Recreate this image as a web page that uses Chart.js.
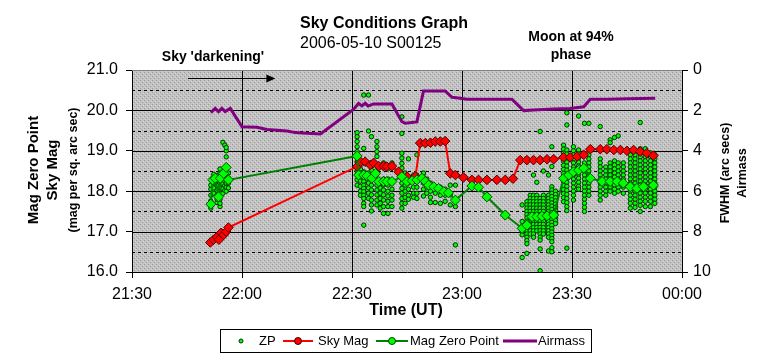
<!DOCTYPE html>
<html><head><meta charset="utf-8">
<script src="https://cdn.jsdelivr.net/npm/chart.js@4.4.0/dist/chart.umd.min.js"></script>
<style>html,body{margin:0;padding:0;background:#fff;}canvas{display:block;}</style>
</head><body>
<canvas id="c" width="764" height="358"></canvas>
<script>
// Time values are minutes after 21:30 UT
const xTickLabels = ['21:30','22:00','22:30','23:00','23:30','00:00'];
const leftTickValues = [16, 17, 18, 19, 20, 21];
const rightTickValues = [0,1,2,3,4,5,6,7,8,9,10];

const airmassTime = [21.5,22.7,23.6,24.5,25.4,26.8,30.0,34.1,36.8,42.3,44.5,47.7,51.4,60.4,61.8,62.7,63.6,64.4,65.9,70.9,73.6,74.5,77.7,79.5,85.4,87.3,89.5,91.4,103.6,106.8,109.5,115.0,119.5,123.2,125.0,129.5,135.0,142.7];
const airmassValue = [2.11,1.90,2.06,1.90,2.06,1.90,2.81,2.84,2.94,3.02,3.10,3.13,3.17,1.95,1.65,1.78,1.65,1.78,1.68,1.68,2.56,2.64,2.57,1.04,1.04,1.35,1.40,1.45,1.45,2.01,1.98,1.93,1.90,1.82,1.45,1.45,1.42,1.40];

const skyMagTime = [21.35,22.25,23.2,23.7,24.3,25.0,25.7,26.3,61.4,62.3,63.6,65.0,65.9,67.3,68.6,69.5,70.9,72.7,75.0,77.3,78.6,80.0,81.4,82.7,84.1,85.4,86.8,88.2,90.4,92.7,94.5,96.8,99.5,101.8,103.9,105.9,107.7,109.5,111.3,113.2,115.0,117.7,119.5,121.4,123.2,125.0,127.7,129.5,131.4,133.2,135.0,136.8,138.6,140.4,142.2];
const skyMagValue = [16.73,16.80,16.87,16.80,16.97,16.92,17.00,17.10,18.61,18.73,18.73,18.65,18.70,18.62,18.62,18.61,18.62,18.48,18.36,18.36,19.19,19.19,19.20,19.23,19.23,19.24,18.44,18.40,18.34,18.28,18.28,18.28,18.28,18.28,18.31,18.77,18.77,18.77,18.77,18.79,18.79,18.84,18.84,18.86,18.90,19.04,19.04,19.04,19.02,19.02,19.00,19.02,18.98,18.94,18.88];

const zeroPointTime = [21.5,22.0,22.7,23.6,24.1,25.0,25.7,26.3,61.4,61.8,63.2,64.1,65.4,66.4,67.3,68.6,69.5,70.9,73.6,75.0,76.4,77.7,79.1,80.0,80.9,82.3,83.6,85.0,86.3,88.2,92.7,94.5,96.8,101.8,106.4,107.7,109.1,110.4,111.8,113.2,115.0,117.7,119.1,120.4,121.8,123.2,125.0,128.2,130.4,132.3,134.0,135.9,137.7,139.5,142.2];
const zeroPointValue = [17.68,18.28,18.32,17.86,18.32,18.44,18.59,18.28,18.87,18.40,18.40,18.38,18.32,18.44,18.24,18.24,18.24,18.24,18.36,18.24,18.26,18.28,18.32,18.24,18.15,18.11,18.07,17.99,17.96,17.78,18.13,18.10,17.86,17.41,17.08,17.16,17.37,17.37,17.38,17.39,17.41,18.32,18.40,18.48,18.52,18.57,18.32,18.24,18.24,18.24,18.20,18.11,18.07,18.11,18.15];

// ZP readings, grouped by time column
const zpColumnTime = [21.5,22.3,23.2,24.0,24.8,25.3,25.7,26.3,
 61.4,62.3,63.2,64.5,65.3,66.8,67.7,68.6,69.8,70.9,73.6,74.5,75.4,76.8,77.7,79.5,80.4,81.4,82.7,84.1,85.4,86.8,88.2,
 106.4,107.7,108.6,109.5,110.4,111.3,112.2,113.6,114.5,115.5,
 117.7,118.6,120.4,121.8,123.4,124.6,127.7,129.2,130.4,131.6,132.6,134.0,135.9,137.2,138.6,140.0,141.4,142.6];
const zpColumnMags = [
 [17.58,17.68,17.76,17.9,18.05,18.15],
 [17.95,18.08,18.2,18.3,18.42],
 [17.72,17.8,17.9,18.02,18.14,18.26,18.38],
 [17.62,17.7,17.8,17.95,18.08,18.2,18.32,18.45,18.55],
 [17.95,18.06,18.18,18.3,18.42,19.21],
 [18.02,18.14,18.26,18.38,19.14],
 [18.0,18.1,18.2,18.3,18.5,18.62,18.85,19.0,19.08],
 [18.08,18.2,18.32,18.45],
 [19.45,19.35,19.23,19.1,18.98,18.86,18.73,18.6,18.5,18.4,18.28,18.15],
 [18.55,18.45,18.35,18.25,18.12,18.0,17.9],
 [20.38,19.06,18.69,18.48,18.36,18.24,18.15,18.07,17.99,17.9,17.82,17.7,17.62,17.16],
 [20.38,19.49,18.45,18.32,18.2,18.08,17.95,17.82],
 [19.35,18.52,18.4,18.28,18.15,18.03,17.91,17.78,17.66,17.51],
 [19.23,19.1,18.98,18.86,18.3,18.15,18.03,17.91,17.78,17.66],
 [18.2,18.08,17.95,17.82,17.7,17.58],
 [18.7,18.3,18.15,18.03,17.91,17.78,17.62,17.45],
 [18.55,18.3,18.15,18.0,17.88,17.75,17.62,17.45],
 [18.7,18.2,18.05,17.9,17.78,17.62],
 [19.84,19.43,18.94,18.82,18.69,18.57,18.44,18.32,18.2,18.07,17.95,17.82,17.7,17.58],
 [18.45,18.3,18.15,18.0,17.85,17.7],
 [18.8,18.35,18.2,18.05,17.9,17.8],
 [18.4,18.25,18.1,17.95,17.85],
 [18.9,18.4,18.25,18.1,17.95,17.82],
 [18.45,18.35,18.2,18.05,17.88],
 [18.3,18.1,17.95],
 [18.2,18.0,17.85,17.72],
 [18.1,17.95,17.72],
 [18.1,17.9,17.7],
 [18.05,17.9,17.75],
 [18.15,17.91,17.66],
 [18.15,17.62,16.67],
 [17.66,17.25,17.12,17.0,16.92,16.36],
 [17.74,17.66,17.58,17.5,17.42,17.34,17.26,17.18,17.1,17.02,16.94,16.86,16.78,16.7,16.46],
 [17.9,17.82,17.74,17.66,17.58,17.5,17.42,17.34,17.26,17.18,17.1,17.02,16.94],
 [18.4,17.9,17.82,17.74,17.66,17.58,17.5,17.42,17.34,17.26,17.18,17.1,17.02,16.94,16.86],
 [18.22,17.9,17.82,17.74,17.66,17.58,17.5,17.42,17.34,17.26,17.18,17.1,17.02],
 [19.48,17.82,17.74,17.66,17.58,17.5,17.42,17.34,17.26,17.18,17.1,17.02,16.94,16.86,16.79,16.57,16.03],
 [18.5,17.9,17.82,17.74,17.66,17.58,17.5,17.42,17.34,17.26,17.18,17.1,17.02,16.94],
 [18.4,17.9,17.82,17.74,17.66,17.58,17.5,17.42,17.34,17.26,17.18,17.1,17.02,16.94,16.86,16.52],
 [19.1,18.61,18.11,18.03,17.95,17.87,17.79,17.71,17.63,17.55,17.47,17.39,17.31,17.23,17.15,17.07,16.99,16.91,16.83,16.75,16.6,16.5],
 [18.0,17.92,17.84,17.76,17.68,17.6,17.52,17.45,17.36,17.28,17.2],
 [19.14,19.04,18.94,18.84,18.74,18.64,18.54,18.44,18.34,18.24,18.14,18.04,17.94,17.84,17.74],
 [19.94,19.64,19.02,18.92,18.82,18.72,18.62,18.52,18.42,18.32,18.22,18.12,18.02,17.92,17.82,17.72,17.62,17.52,16.59],
 [19.1,19.0,18.9,18.8,18.7,18.6,18.5,18.4,18.3,18.2,18.1,18.0,17.9,17.78],
 [19.86,19.02,18.92,18.82,18.72,18.62,18.52,18.42,18.32,18.22,18.12,18.05],
 [19.68,18.7,18.6,18.5,18.4,18.3,18.2,18.1,18.0,17.9,17.8,17.7,17.6,17.5],
 [19.68,18.9,18.8,18.7,18.6,18.5,18.4,18.3,18.2,18.1,18.0,17.9],
 [19.6,18.8,18.7,18.6,18.5,18.4,18.3,18.2,18.1,18.0,17.9,17.78],
 [18.6,18.5,18.4,18.3,18.2,18.1,18.0,17.9],
 [19.27,19.2,18.7,18.6,18.5,18.4,18.3,18.2,18.1,18.0],
 [19.33,18.75,18.65,18.55,18.45,18.35,18.25,18.15,18.05,17.95],
 [19.37,18.7,18.6,18.5,18.4,18.3,18.2,18.1,18.0],
 [18.7,18.6,18.5,18.4,18.3,18.2,18.1,17.95],
 [19.0,18.9,18.8,18.7,18.6,18.5,18.4,18.3,18.2,18.1,18.0,17.9,17.8,17.7,17.58],
 [19.0,18.9,18.8,18.7,18.6,18.5,18.4,18.3,18.2,18.1,18.0,17.9,17.8,17.7,17.6],
 [19.7,19.05,18.95,18.85,18.75,18.65,18.55,18.45,18.35,18.25,18.15,18.05,17.95,17.85,17.75,17.65,17.5],
 [19.05,18.95,18.85,18.75,18.65,18.55,18.45,18.35,18.25,18.15,18.05,17.95,17.85,17.75,17.62],
 [18.95,18.85,18.75,18.65,18.55,18.45,18.35,18.25,18.15,18.05,17.95,17.85,17.75,17.62],
 [18.9,18.8,18.7,18.6,18.5,18.4,18.3,18.2,18.1,18.0,17.9,17.8,17.7]
];

const FONT = "'Liberation Sans', Arial, sans-serif";
Chart.defaults.font.family = FONT;
Chart.defaults.color = '#000';

const zip = (xs, ys) => xs.map((x, i) => ({x: x, y: ys[i]}));
const zpPoints = [];
zpColumnTime.forEach((t, i) => zpColumnMags[i].forEach(m => zpPoints.push({x: t, y: m})));

function makePattern(ctx) {
  const c = document.createElement('canvas'); c.width = 4; c.height = 4;
  const g = c.getContext('2d');
  g.fillStyle = '#c2c2c2'; g.fillRect(0, 0, 4, 4);
  g.fillStyle = '#9c9c9c'; g.fillRect(0, 0, 1, 1); g.fillRect(2, 2, 1, 1);
  g.fillStyle = '#d8d8d8'; g.fillRect(1, 3, 1, 1); g.fillRect(3, 1, 1, 1);
  return ctx.createPattern(c, 'repeat');
}

const decor = {
  id: 'decor',
  beforeDraw(chart) {
    const {ctx, chartArea: a} = chart;
    ctx.save();
    ctx.fillStyle = '#fff'; ctx.fillRect(0, 0, chart.width, chart.height);
    ctx.fillStyle = makePattern(ctx);
    ctx.fillRect(a.left, a.top, a.right - a.left, a.bottom - a.top);
    ctx.restore();
  },
  beforeDatasetsDraw(chart) {
    const {ctx, chartArea: a} = chart;
    const y2 = chart.scales.y2;
    ctx.save();
    ctx.lineWidth = 1;
    rightTickValues.forEach(v => {
      if (v === 0 || v === 10) return;
      const py = Math.round(y2.getPixelForValue(v)) + 0.5;
      ctx.strokeStyle = '#000';
      ctx.setLineDash(v % 2 ? [3, 3] : []);
      ctx.beginPath(); ctx.moveTo(a.left, py); ctx.lineTo(a.right, py); ctx.stroke();
    });
    ctx.setLineDash([]);
    ctx.strokeStyle = '#808080';
    const ty = Math.round(a.top) + 0.5;
    ctx.beginPath(); ctx.moveTo(a.left, ty); ctx.lineTo(a.right, ty); ctx.stroke();
    ctx.restore();
  },
  afterDraw(chart) {
    const {ctx} = chart;
    const xs = chart.scales.x, ys = chart.scales.y;
    ctx.save();
    ctx.fillStyle = '#000';
    ctx.textBaseline = 'middle';
    // titles
    ctx.textAlign = 'left';
    ctx.font = 'bold 16px ' + FONT;
    ctx.fillText('Sky Conditions Graph', 300, 24);
    ctx.font = '16px ' + FONT;
    ctx.fillText('2006-05-10 S00125', 300, 44);
    ctx.textAlign = 'center';
    ctx.font = 'bold 14px ' + FONT;
    ctx.fillText("Sky 'darkening'", 213, 57);
    ctx.fillText('Moon at 94%', 571, 37);
    ctx.fillText('phase', 571, 55);
    ctx.font = 'bold 16px ' + FONT;
    ctx.fillText('Time (UT)', 406, 311);
    // arrow
    const ay = Math.round(ys.getPixelForValue(20.8)) + 0.5;
    const ax1 = xs.getPixelForValue(15.3), ax2 = xs.getPixelForValue(39.1);
    ctx.strokeStyle = '#000'; ctx.lineWidth = 1;
    ctx.beginPath(); ctx.moveTo(ax1, ay); ctx.lineTo(ax2 - 8, ay); ctx.stroke();
    ctx.beginPath(); ctx.moveTo(ax2, ay); ctx.lineTo(ax2 - 9, ay - 4); ctx.lineTo(ax2 - 9, ay + 4); ctx.closePath(); ctx.fill();
    // left axis titles
    const rot = (txt, x, y, font) => {
      ctx.save(); ctx.translate(x, y); ctx.rotate(-Math.PI / 2);
      ctx.font = font; ctx.textAlign = 'center'; ctx.textBaseline = 'middle';
      ctx.fillText(txt, 0, 0); ctx.restore();
    };
    rot('Mag Zero Point', 34, 170, 'bold 15px ' + FONT);
    rot('Sky Mag', 53, 170, 'bold 15px ' + FONT);
    rot('(mag per sq. arc sec)', 74, 170, 'bold 12.5px ' + FONT);
    rot('FWHM (arc secs)', 726, 173, 'bold 12.5px ' + FONT);
    rot('Airmass', 743, 173, 'bold 12.5px ' + FONT);
    // legend
    ctx.fillStyle = '#fff'; ctx.fillRect(220.5, 329.5, 371, 23);
    ctx.strokeStyle = '#000'; ctx.lineWidth = 1; ctx.strokeRect(220.5, 329.5, 371, 23);
    const ly = 341;
    ctx.font = '13px ' + FONT; ctx.textAlign = 'left'; ctx.textBaseline = 'middle';
    ctx.beginPath(); ctx.arc(241, ly, 2, 0, Math.PI * 2); ctx.fillStyle = '#00ff00'; ctx.fill(); ctx.strokeStyle = '#003000'; ctx.stroke();
    ctx.fillStyle = '#000'; ctx.fillText('ZP', 259, ly);
    ctx.lineWidth = 2; ctx.strokeStyle = '#ff0000';
    ctx.beginPath(); ctx.moveTo(283, ly); ctx.lineTo(313, ly); ctx.stroke();
    ctx.lineWidth = 1; ctx.beginPath(); ctx.arc(298, ly, 3.5, 0, Math.PI * 2); ctx.fillStyle = '#ff0000'; ctx.fill(); ctx.strokeStyle = '#400000'; ctx.stroke();
    ctx.fillStyle = '#000'; ctx.fillText('Sky Mag', 318, ly);
    ctx.lineWidth = 2; ctx.strokeStyle = '#008000';
    ctx.beginPath(); ctx.moveTo(376, ly); ctx.lineTo(408, ly); ctx.stroke();
    ctx.lineWidth = 1; ctx.beginPath(); ctx.arc(392, ly, 3.5, 0, Math.PI * 2); ctx.fillStyle = '#00ff00'; ctx.fill(); ctx.strokeStyle = '#004000'; ctx.stroke();
    ctx.fillStyle = '#000'; ctx.fillText('Mag Zero Point', 410, ly);
    ctx.lineWidth = 3; ctx.strokeStyle = '#800080';
    ctx.beginPath(); ctx.moveTo(503, ly); ctx.lineTo(537, ly); ctx.stroke();
    ctx.fillStyle = '#000'; ctx.fillText('Airmass', 538, ly);
    ctx.restore();
  }
};

new Chart(document.getElementById('c').getContext('2d'), {
  type: 'line',
  data: {
    datasets: [
      {label: 'ZP', type: 'scatter', data: zpPoints, showLine: false, pointRadius: 2.2, pointHoverRadius: 2.2,
       pointBackgroundColor: '#00ff00', pointBorderColor: '#003300', pointBorderWidth: 1, yAxisID: 'y', order: 4},
      {label: 'Sky Mag', data: zip(skyMagTime, skyMagValue), borderColor: '#ff0000', borderWidth: 2,
       pointStyle: 'rectRot', pointRadius: 4.8, pointBackgroundColor: '#ff0000', pointBorderColor: '#500000', pointBorderWidth: 1,
       yAxisID: 'y', order: 3, tension: 0},
      {label: 'Mag Zero Point', data: zip(zeroPointTime, zeroPointValue), borderColor: '#008000', borderWidth: 2,
       pointStyle: 'rectRot', pointRadius: 5, pointBackgroundColor: '#00ff00', pointBorderColor: '#005000', pointBorderWidth: 1,
       yAxisID: 'y', order: 2, tension: 0},
      {label: 'Airmass', data: zip(airmassTime, airmassValue), borderColor: '#800080', borderWidth: 3,
       pointRadius: 0, yAxisID: 'y2', order: 1, tension: 0}
    ]
  },
  options: {
    responsive: false, animation: false, devicePixelRatio: 1,
    layout: {padding: {top: 70, left: 0, right: 0, bottom: 0}},
    plugins: {legend: {display: false}, tooltip: {enabled: false}, title: {display: false}},
    scales: {
      x: {type: 'linear', min: 0, max: 150,
          afterBuildTicks: s => { s.ticks = xTickLabels.map((l, i) => ({value: i * 30})); },
          ticks: {callback: (v) => xTickLabels[Math.round(v / 30)], font: {size: 16}, padding: 7, maxRotation: 0, autoSkip: false, color: '#000'},
          grid: {color: '#000', lineWidth: 1, tickLength: 6, drawTicks: true, tickColor: '#000'},
          border: {color: '#000', width: 1},
          afterFit: s => { s.height = 86; }},
      y: {position: 'left', min: 16, max: 21,
          afterBuildTicks: s => { s.ticks = leftTickValues.map(v => ({value: v})); },
          ticks: {callback: v => v.toFixed(1), font: {size: 16}, padding: 8, color: '#000'},
          grid: {drawOnChartArea: false, tickLength: 6, color: '#000'},
          border: {color: '#000', width: 1},
          afterFit: s => { s.width = 132; }},
      y2: {position: 'right', min: 0, max: 10, reverse: true,
          afterBuildTicks: s => { s.ticks = rightTickValues.map(v => ({value: v})); },
          ticks: {font: {size: 16}, padding: 5, color: '#000'},
          grid: {drawOnChartArea: false, tickLength: 6, color: '#000'},
          border: {color: '#000', width: 1},
          afterFit: s => { s.width = 82; }}
    }
  },
  plugins: [decor]
});
</script>
</body></html>
